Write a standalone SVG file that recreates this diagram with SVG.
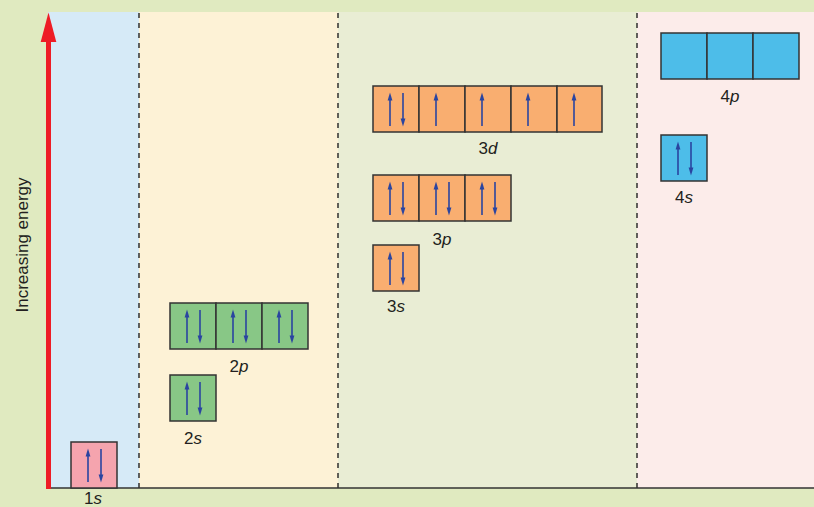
<svg xmlns="http://www.w3.org/2000/svg" xmlns:xlink="http://www.w3.org/1999/xlink" width="814" height="507" viewBox="0 0 814 507">
<style>
.box{stroke:#333;stroke-width:1.5}
.pink{fill:#f5a4ae}.green{fill:#88c786}.orange{fill:#f9ae70}.blue{fill:#4dbde9}
.lbl{font-family:"Liberation Sans",Arial,sans-serif;font-size:17px;fill:#231f20;text-anchor:middle}
.it{font-style:italic}
.div{stroke:#222;stroke-width:1.4;stroke-dasharray:5 5}
.e{stroke:#2a44a0;stroke-width:1.6;fill:none}
.eh{fill:#2a44a0}
</style>
<defs>
<g id="up"><path class="e" d="M17,40 V13"/><polygon class="eh" points="14.6,14.5 17,6.5 19.4,14.5"/></g>
<g id="dn"><path class="e" d="M30,7 V33"/><polygon class="eh" points="27.6,32.5 30,40.5 32.4,32.5"/></g>
<g id="pair"><use xlink:href="#up"/><use xlink:href="#dn"/></g>
</defs>
<rect x="0" y="0" width="814" height="507" fill="#e0eac0"/>
<g id="panels">
<rect x="48" y="12" width="91" height="476" fill="#d6eaf7"/>
<rect x="139" y="12" width="199" height="476" fill="#fdf2d6"/>
<rect x="338" y="12" width="299" height="476" fill="#e9edd4"/>
<rect x="637" y="12" width="177" height="476" fill="#fcecea"/>
<line class="div" x1="139" y1="13" x2="139" y2="488"/>
<line class="div" x1="338" y1="13" x2="338" y2="488"/>
<line class="div" x1="637" y1="13" x2="637" y2="488"/>
</g>
<g id="axis">
<line x1="48" y1="488" x2="814" y2="488" stroke="#333" stroke-width="1.6"/>
<rect x="46" y="38" width="5" height="451" fill="#ee1c25"/>
<polygon points="40.7,42 48.5,12.5 56.3,42" fill="#ee1c25"/>
<text class="lbl" transform="translate(28,245) rotate(-90)" style="font-size:17px" textLength="135" lengthAdjust="spacingAndGlyphs">Increasing energy</text>
</g>
<g id="connectors"></g>
<g id="orb-1s">
<rect class="box pink" x="71" y="442" width="46" height="46"/>
<use xlink:href="#pair" x="71" y="442"/>
<text class="lbl" x="93" y="504">1<tspan class="it">s</tspan></text>
</g>
<g id="orb-2s">
<rect class="box green" x="170" y="375" width="46" height="46"/>
<use xlink:href="#pair" x="170" y="375"/>
<text class="lbl" x="193" y="444">2<tspan class="it">s</tspan></text>
</g>
<g id="orb-2p">
<rect class="box green" x="170" y="303" width="46" height="46"/>
<rect class="box green" x="216" y="303" width="46" height="46"/>
<rect class="box green" x="262" y="303" width="46" height="46"/>
<use xlink:href="#pair" x="170" y="303"/>
<use xlink:href="#pair" x="216" y="303"/>
<use xlink:href="#pair" x="262" y="303"/>
<text class="lbl" x="239" y="372">2<tspan class="it">p</tspan></text>
</g>
<g id="orb-3s">
<rect class="box orange" x="373" y="245" width="46" height="46"/>
<use xlink:href="#pair" x="373" y="245"/>
<text class="lbl" x="396" y="312">3<tspan class="it">s</tspan></text>
</g>
<g id="orb-3p">
<rect class="box orange" x="373" y="175" width="46" height="46"/>
<rect class="box orange" x="419" y="175" width="46" height="46"/>
<rect class="box orange" x="465" y="175" width="46" height="46"/>
<use xlink:href="#pair" x="373" y="175"/>
<use xlink:href="#pair" x="419" y="175"/>
<use xlink:href="#pair" x="465" y="175"/>
<text class="lbl" x="442" y="245">3<tspan class="it">p</tspan></text>
</g>
<g id="orb-3d">
<rect class="box orange" x="373" y="86" width="46" height="46"/>
<rect class="box orange" x="419" y="86" width="46" height="46"/>
<rect class="box orange" x="465" y="86" width="46" height="46"/>
<rect class="box orange" x="511" y="86" width="46" height="46"/>
<rect class="box orange" x="557" y="86" width="45" height="46"/>
<use xlink:href="#pair" x="373" y="86"/>
<use xlink:href="#up" x="419" y="86"/>
<use xlink:href="#up" x="465" y="86"/>
<use xlink:href="#up" x="511" y="86"/>
<use xlink:href="#up" x="557" y="86"/>
<text class="lbl" x="488" y="154">3<tspan class="it">d</tspan></text>
</g>
<g id="orb-4s">
<rect class="box blue" x="661" y="135" width="46" height="46"/>
<use xlink:href="#pair" x="661" y="135"/>
<text class="lbl" x="684" y="203">4<tspan class="it">s</tspan></text>
</g>
<g id="orb-4p">
<rect class="box blue" x="661" y="33" width="46" height="46"/>
<rect class="box blue" x="707" y="33" width="46" height="46"/>
<rect class="box blue" x="753" y="33" width="46" height="46"/>
<text class="lbl" x="730" y="102">4<tspan class="it">p</tspan></text>
</g>
</svg>
